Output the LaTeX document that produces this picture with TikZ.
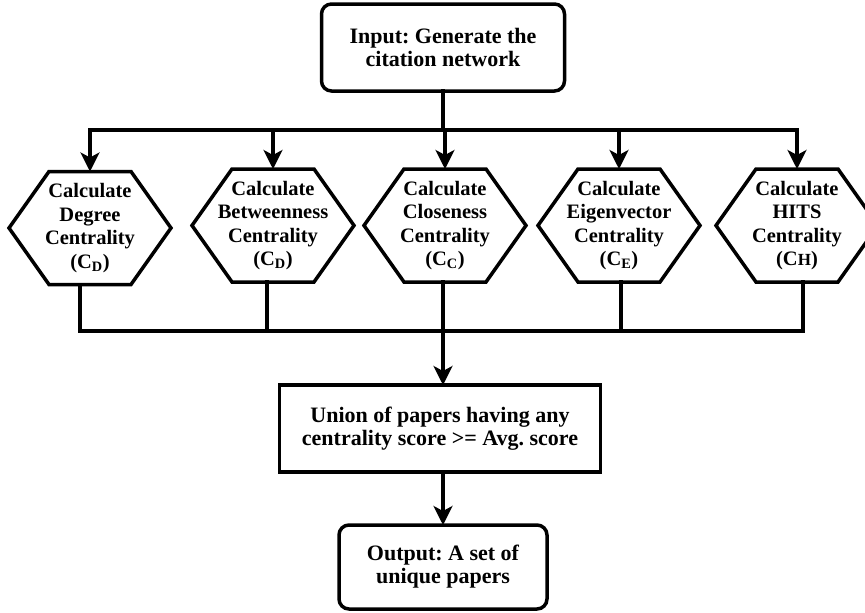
\documentclass[tikz,border=0pt]{standalone}
\usepackage{fontspec}
\setmainfont{Liberation Serif}
\usetikzlibrary{arrows.meta}
\frenchspacing

\begin{document}
\begin{tikzpicture}
[x=1pt,y=-1pt,
 every node/.style={inner sep=0pt,outer sep=0pt,align=center,font=\bfseries\fontsize{22}{23}\selectfont},
 rbox/.style={draw,line width=3.5pt,rounded corners=10pt},
 box/.style={draw,line width=3.5pt},
 hex/.style={minimum width=162pt,minimum height=113pt,font=\bfseries\fontsize{20.5}{23.5}\selectfont},
 line/.style={line width=3.2pt,line cap=rect},
 arr/.style={line width=3.2pt,-{Stealth[length=19pt,width=19pt,inset=5pt]}}]
\useasboundingbox (0,0) rectangle (865,613);

\node[rbox,minimum width=243pt,minimum height=87pt] (in) at (443,47.5) {Input: Generate the\\citation network};

\node[hex] (cd) at (90,228)    {Calculate\\Degree\\Centrality\\(C\textsubscript{D})};
\node[hex] (cb) at (273,225.5) {Calculate\\Betweenness\\Centrality\\(C\textsubscript{D})};
\node[hex] (cc) at (445,225.5) {Calculate\\Closeness\\Centrality\\(C\textsubscript{C})};
\node[hex] (ce) at (619,225.5) {Calculate\\Eigenvector\\Centrality\\(C\textsubscript{E})};
\node[hex] (ch) at (797,225.5) {Calculate\\HITS\\Centrality\\(C{\fontsize{17}{17}\selectfont H})};

\node[box,minimum width=321pt,minimum height=87pt] (un) at (440,428.5) {Union of papers having any\\centrality score >= Avg. score};
\node[rbox,minimum width=208pt,minimum height=84pt] (out) at (443,567) {Output: A set of\\unique papers};

% hexagon outlines
\foreach \h in {cd,cb,cc,ce,ch}
  \draw[line,line width=3.5pt,line cap=butt] ([xshift=-41]\h.north) -- ([xshift=41]\h.north) -- (\h.east)
    -- ([xshift=41]\h.south) -- ([xshift=-41]\h.south) -- (\h.west) -- cycle;

\coordinate (top) at (443,130);
\coordinate (low) at (443,331);

% split
\draw[line] (in.south) -- (top);
\draw[line] (top -| cd) -- (top -| ch);
\foreach \h in {cd,cb,cc,ce,ch}
  \draw[arr] (top -| \h) -- (\h.north);

% merge
\foreach \h/\s in {cd/-10,cb/-6,cc/-2,ce/2,ch/6}
  \draw[line] ([xshift=\s]\h.south) -- ([xshift=\s]\h.south |- low);
\draw[line] ([xshift=-10]cd.south |- low) -- ([xshift=6]ch.south |- low);

\draw[arr] (low) -- (un.north -| low);
\draw[arr] (un.south -| low) -- (out.north -| low);
\end{tikzpicture}
\end{document}
